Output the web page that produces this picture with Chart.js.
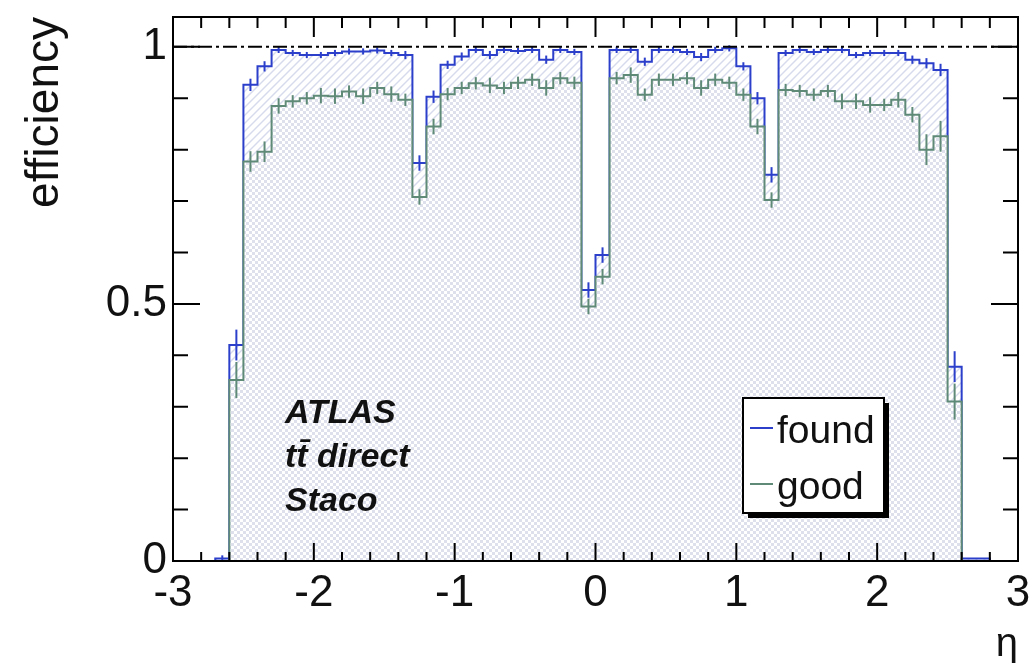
<!DOCTYPE html>
<html>
<head>
<meta charset="utf-8">
<script src="https://cdn.jsdelivr.net/npm/chart.js@4.4.1/dist/chart.umd.min.js"></script>
<style>
  html, body { margin: 0; padding: 0; background: #fff; }
  #wrap { width: 1035px; height: 663px; }
</style>
</head>
<body>
<div id="wrap"><canvas id="effChart" width="1035" height="663"></canvas></div>
<script>
// 60 bins of 0.1 in eta, from -3 to 3
const etaMin = -3;
const etaMax = 3;
const nBins = 60;

const foundEff = [
  0, 0, 0, 0.005, 0.42, 0.926, 0.962, 0.994, 0.988, 0.984,
  0.984, 0.988, 0.991, 0.991, 0.993, 0.988, 0.984, 0.774, 0.903, 0.965,
  0.981, 0.994, 0.984, 0.994, 0.992, 0.994, 0.975, 0.994, 0.990, 0.527,
  0.595, 0.994, 0.994, 0.971, 0.994, 0.994, 0.990, 0.980, 0.994, 0.997,
  0.962, 0.900, 0.751, 0.988, 0.994, 0.990, 0.994, 0.994, 0.984, 0.988,
  0.988, 0.988, 0.975, 0.968, 0.955, 0.378, 0.005, 0.005, 0, 0
];
const goodEff = [
  0, 0, 0, 0, 0.352, 0.777, 0.796, 0.885, 0.894, 0.900,
  0.905, 0.904, 0.913, 0.904, 0.920, 0.908, 0.897, 0.708, 0.845, 0.908,
  0.920, 0.929, 0.925, 0.920, 0.930, 0.936, 0.920, 0.939, 0.930, 0.495,
  0.553, 0.939, 0.945, 0.907, 0.936, 0.936, 0.939, 0.920, 0.936, 0.930,
  0.907, 0.845, 0.702, 0.916, 0.914, 0.907, 0.914, 0.894, 0.894, 0.887,
  0.887, 0.897, 0.868, 0.800, 0.826, 0.310, 0, 0, 0, 0
];
const foundErr = [
  0, 0, 0, 0.006, 0.03, 0.012, 0.01, 0.006, 0.006, 0.006,
  0.006, 0.006, 0.006, 0.006, 0.006, 0.006, 0.008, 0.015, 0.012, 0.008,
  0.008, 0.006, 0.008, 0.006, 0.006, 0.006, 0.008, 0.006, 0.006, 0.015,
  0.015, 0.006, 0.006, 0.008, 0.006, 0.006, 0.006, 0.008, 0.006, 0.006,
  0.008, 0.012, 0.015, 0.006, 0.006, 0.006, 0.006, 0.006, 0.006, 0.006,
  0.006, 0.006, 0.008, 0.01, 0.012, 0.03, 0, 0, 0, 0
];
const goodErr = [
  0, 0, 0, 0, 0.035, 0.02, 0.02, 0.015, 0.012, 0.012,
  0.015, 0.015, 0.012, 0.015, 0.012, 0.015, 0.012, 0.015, 0.015, 0.012,
  0.012, 0.012, 0.015, 0.012, 0.012, 0.012, 0.015, 0.012, 0.012, 0.015,
  0.015, 0.012, 0.015, 0.012, 0.012, 0.012, 0.012, 0.015, 0.012, 0.012,
  0.012, 0.015, 0.015, 0.012, 0.012, 0.012, 0.012, 0.015, 0.015, 0.015,
  0.012, 0.015, 0.015, 0.03, 0.03, 0.035, 0, 0, 0, 0
];

const xTickLabels = [-3, -2, -1, 0, 1, 2, 3];
const yTickLabels = [0, 0.5, 1];
const seriesNames = ['found', 'good'];
const textLines = ['ATLAS', 'tt\u0304 direct', 'Staco'];

const binW = (etaMax - etaMin) / nBins;
const blue = '#2b3fcb';
const green = '#5f8a78';
const fontFam = '"Liberation Sans", Arial, sans-serif';
Chart.defaults.font.family = fontFam;

function histPoints(vals) {
  const pts = vals.map((v, i) => ({ x: etaMin + i * binW, y: v }));
  pts.push({ x: etaMax, y: vals[vals.length - 1] });
  return pts;
}

function makePattern(draw, size) {
  const c = document.createElement('canvas');
  c.width = size; c.height = size;
  const g = c.getContext('2d');
  g.fillStyle = '#ffffff';
  g.fillRect(0, 0, size, size);
  draw(g, size);
  return document.getElementById('effChart').getContext('2d').createPattern(c, 'repeat');
}

const hatchFound = makePattern((g, s) => {
  g.strokeStyle = 'rgb(214,218,236)';
  g.lineWidth = 1.4;
  g.beginPath();
  g.moveTo(-1, s + 1); g.lineTo(s + 1, -1);
  g.moveTo(-1, 1); g.lineTo(1, -1);
  g.moveTo(s - 1, s + 1); g.lineTo(s + 1, s - 1);
  g.stroke();
}, 8);

const hatchGood = makePattern((g, s) => {
  g.fillStyle = 'rgb(222,225,236)';
  g.fillRect(0, 0, s / 2, s / 2);
  g.fillRect(s / 2, s / 2, s / 2, s / 2);
}, 6);

const rootStyle = {
  id: 'rootStyle',
  afterDatasetsDraw(chart) {
    const { ctx, chartArea: a, scales: { x, y } } = chart;
    ctx.save();

    // error bars at bin centres
    chart.data.datasets.forEach(ds => {
      ctx.strokeStyle = ds.borderColor;
      ctx.lineWidth = 2;
      ds.values.forEach((v, i) => {
        if (!ds.errors[i]) return;
        const cx = x.getPixelForValue(etaMin + (i + 0.5) * binW);
        ctx.beginPath();
        ctx.moveTo(cx, y.getPixelForValue(v - ds.errors[i]));
        ctx.lineTo(cx, y.getPixelForValue(v + ds.errors[i]));
        ctx.stroke();
      });
    });

    // dash-dot line at efficiency 1
    ctx.strokeStyle = '#000';
    ctx.lineWidth = 2;
    ctx.setLineDash([14, 4, 3, 4]);
    ctx.beginPath();
    ctx.moveTo(a.left, y.getPixelForValue(1));
    ctx.lineTo(a.right, y.getPixelForValue(1));
    ctx.stroke();
    ctx.setLineDash([]);

    // frame and inward ticks
    ctx.strokeRect(a.left, a.top, a.right - a.left, a.bottom - a.top);
    ctx.beginPath();
    for (let k = -15; k <= 15; k++) {
      const px = x.getPixelForValue(k / 5);
      const len = k % 5 === 0 ? 18 : 9;
      ctx.moveTo(px, a.bottom); ctx.lineTo(px, a.bottom - len);
      ctx.moveTo(px, a.top); ctx.lineTo(px, a.top + len + 2);
    }
    for (let k = 0; k <= 10; k++) {
      const py = y.getPixelForValue(k / 10);
      const len = k % 5 === 0 ? 27 : 15;
      ctx.moveTo(a.left, py); ctx.lineTo(a.left + len, py);
      ctx.moveTo(a.right, py); ctx.lineTo(a.right - len, py);
    }
    ctx.stroke();

    // ATLAS label
    ctx.fillStyle = '#111';
    ctx.font = 'italic bold 34px ' + fontFam;
    ctx.textBaseline = 'alphabetic';
    ctx.textAlign = 'left';
    textLines.forEach((t, i) => ctx.fillText(t, 285, 423 + i * 44));

    // legend box with shadow
    const lx = 743, ly = 398, lw = 141, lh = 115;
    ctx.fillStyle = '#000';
    ctx.fillRect(lx + 5, ly + 5, lw, lh);
    ctx.fillStyle = '#fff';
    ctx.fillRect(lx, ly, lw, lh);
    ctx.strokeRect(lx, ly, lw, lh);
    ctx.font = '39px ' + fontFam;
    chart.data.datasets.forEach((ds, i) => {
      const ry = ly + 30 + i * 56;
      ctx.strokeStyle = ds.borderColor;
      ctx.beginPath();
      ctx.moveTo(lx + 7, ry); ctx.lineTo(lx + 30, ry);
      ctx.stroke();
      ctx.fillStyle = '#111';
      ctx.fillText(ds.label, lx + 34, ry + 15);
    });

    ctx.restore();
  }
};

new Chart(document.getElementById('effChart'), {
  type: 'line',
  data: {
    datasets: [
      {
        label: seriesNames[0],
        data: histPoints(foundEff),
        values: foundEff,
        errors: foundErr,
        borderColor: blue,
        backgroundColor: hatchFound,
        borderWidth: 2,
        stepped: true,
        fill: 'origin',
        pointRadius: 0,
        order: 2
      },
      {
        label: seriesNames[1],
        data: histPoints(goodEff),
        values: goodEff,
        errors: goodErr,
        borderColor: green,
        backgroundColor: hatchGood,
        borderWidth: 2,
        stepped: true,
        fill: 'origin',
        pointRadius: 0,
        order: 1
      }
    ]
  },
  options: {
    responsive: false,
    animation: false,
    layout: { padding: { top: 17, right: 17, left: 0, bottom: 0 } },
    plugins: { legend: { display: false }, tooltip: { enabled: false } },
    scales: {
      x: {
        type: 'linear',
        min: etaMin,
        max: etaMax,
        grid: { display: false, drawTicks: false },
        border: { display: false },
        afterBuildTicks: s => { s.ticks = xTickLabels.map(v => ({ value: v })); },
        afterFit: s => { s.height = 102; s.paddingLeft = 0; s.paddingRight = 0; },
        ticks: { autoSkip: false, maxRotation: 0, padding: 6, color: '#111', font: { size: 44 },
                 callback: v => String(v) },
        title: {
          display: true, text: 'η', align: 'end', color: '#111',
          font: { size: 40, lineHeight: 0.8 }, padding: { top: 0, bottom: 2 }
        }
      },
      y: {
        min: 0,
        max: 1.058,
        grid: { display: false, drawTicks: false },
        border: { display: false },
        afterBuildTicks: s => { s.ticks = yTickLabels.map(v => ({ value: v })); },
        afterFit: s => { s.width = 173; s.paddingTop = 0; s.paddingBottom = 0; },
        ticks: { padding: 6, color: '#111', font: { size: 44 }, callback: v => String(v) },
        title: {
          display: true, text: 'efficiency', align: 'end', color: '#111',
          font: { size: 46 }, padding: { top: 18, bottom: 0 }
        }
      }
    }
  },
  plugins: [rootStyle]
});
</script>
</body>
</html>
